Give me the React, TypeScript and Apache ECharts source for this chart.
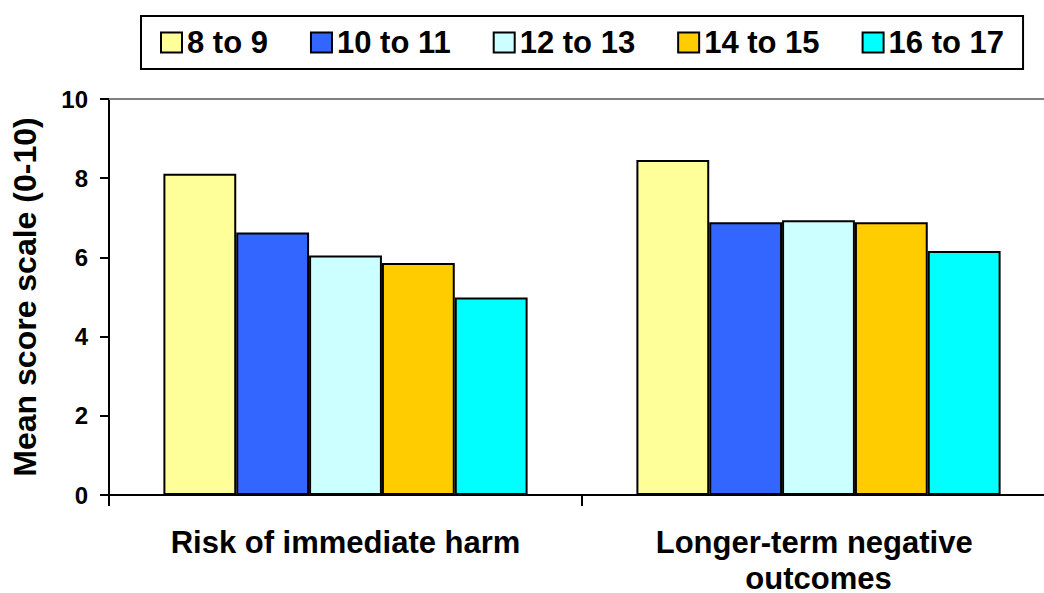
import React, { useEffect, useRef } from "react";
import * as echarts from "echarts";

const categories = ["Risk of immediate harm", "Longer-term negative outcomes"];
const ageGroups = ["8 to 9", "10 to 11", "12 to 13", "14 to 15", "16 to 17"];
const age8to9 = [8.11, 8.46];
const age10to11 = [6.63, 6.89];
const age12to13 = [6.05, 6.94];
const age14to15 = [5.86, 6.89];
const age16to17 = [4.99, 6.16];
const seriesValues = [age8to9, age10to11, age12to13, age14to15, age16to17];
const colors = ["#FFFF99", "#3366FF", "#CCFFFF", "#FFCC00", "#00FFFF"];
const yTicks = [0, 2, 4, 6, 8, 10];

const FONT = "'Liberation Sans', Arial, sans-serif";

export default function App() {
  const ref = useRef<HTMLDivElement>(null);
  useEffect(() => {
    if (!ref.current) return;
    const chart = echarts.init(ref.current, undefined, { renderer: "svg" });
    chart.setOption({
      animation: false,
      backgroundColor: "#ffffff",
      textStyle: { fontFamily: FONT },
      legend: {
        data: ageGroups,
        left: 141,
        top: 16,
        padding: [11, 19],
        itemGap: 42,
        itemWidth: 21,
        itemHeight: 20,
        borderColor: "#000",
        borderWidth: 2,
        icon: "rect",
        textStyle: {
          fontSize: 31,
          fontWeight: "bold",
          color: "#000",
          fontFamily: FONT,
          lineHeight: 31,
        },
      },
      grid: { left: 109, top: 99, bottom: 98, right: 5, containLabel: false, outerBoundsMode: "none" },
      xAxis: [
        {
          type: "category",
          data: categories,
          boundaryGap: true,
          axisLine: { lineStyle: { color: "#000", width: 2 } },
          axisTick: { show: true, length: 11, interval: 0, lineStyle: { color: "#000", width: 2 } },
          axisLabel: {
            interval: 0,
            margin: 29,
            fontSize: 31,
            fontWeight: "bold",
            color: "#000",
            fontFamily: FONT,
            lineHeight: 36,
            width: 400,
            overflow: "break",
          },
        },
        {
          type: "category",
          data: categories,
          position: "top",
          axisLine: { show: true, lineStyle: { color: "#808080", width: 2 } },
          axisTick: { show: false },
          axisLabel: { show: false },
        },
      ],
      yAxis: {
        type: "value",
        min: 0,
        max: 10,
        interval: 2,
        name: "Mean score scale (0-10)",
        nameLocation: "middle",
        nameGap: 68,
        nameRotate: 90,
        nameTextStyle: { fontSize: 32, fontWeight: "bold", color: "#000", fontFamily: FONT },
        axisLine: { show: true, lineStyle: { color: "#000", width: 2 } },
        axisTick: { show: true, length: 9, lineStyle: { color: "#000", width: 2 } },
        splitLine: { show: false },
        axisLabel: {
          margin: 21,
          fontSize: 24,
          fontWeight: 700,
          color: "#000",
          fontFamily: FONT,
          formatter: (v: number) => (yTicks.includes(v) ? String(v) : ""),
        },
      },
      series: ageGroups.map((name, i) => ({
        name,
        type: "bar",
        data: seriesValues[i],
        barGap: "0%",
        barCategoryGap: "23%",
        itemStyle: { color: colors[i], borderColor: "#000", borderWidth: 2 },
      })),
    });
    return () => chart.dispose();
  }, []);
  return (
    <div style={{ position: "fixed", left: 0, top: 0, width: 1044, height: 593, overflow: "hidden", background: "#fff" }}>
      <div ref={ref} style={{ width: 1060, height: 593 }} />
    </div>
  );
}
